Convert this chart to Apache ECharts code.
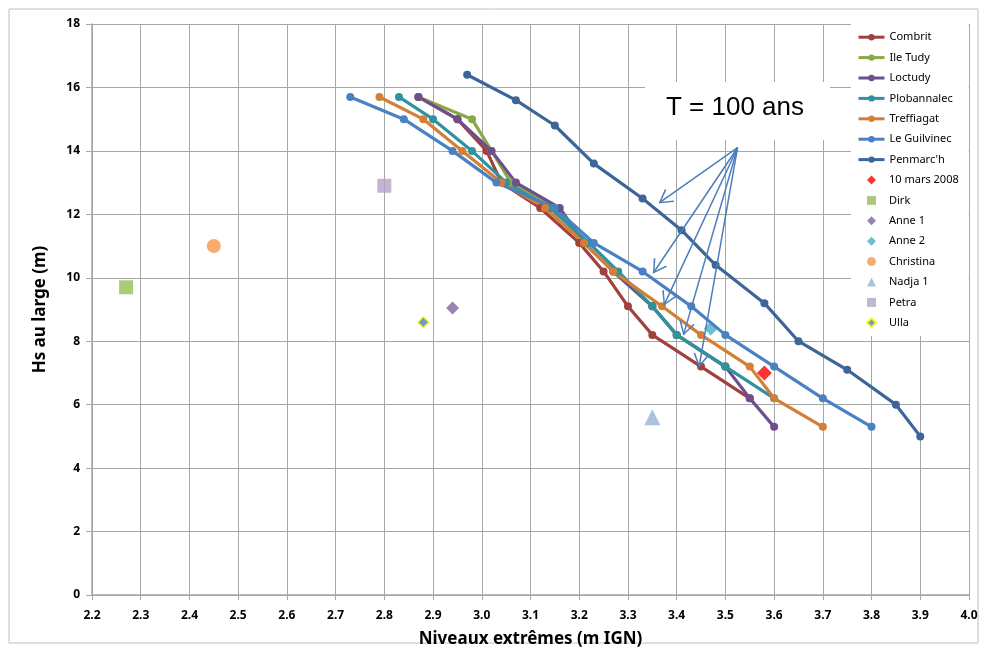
<!DOCTYPE html>
<html>
<head>
<meta charset="utf-8">
<title>Hs au large / Niveaux extrêmes</title>
<script src="https://cdn.jsdelivr.net/npm/echarts@6/dist/echarts.min.js"></script>
<style>
  html, body { margin: 0; padding: 0; background: #fff; }
  #chart { width: 987px; height: 651px; }
</style>
</head>
<body>
<div id="chart"></div>
<script>
// courbes T = 100 ans, [niveau (m IGN), Hs (m)]
const combrit = [[2.87, 15.7], [2.95, 15.0], [3.01, 14.0], [3.04, 13.0], [3.12, 12.2], [3.20, 11.1], [3.25, 10.2], [3.30, 9.1], [3.35, 8.2], [3.45, 7.2], [3.55, 6.2]];
const ileTudy = [[2.87, 15.7], [2.98, 15.0], [3.02, 14.0], [3.06, 13.0], [3.15, 12.2], [3.21, 11.1], [3.27, 10.2], [3.35, 9.1], [3.40, 8.2], [3.50, 7.2]];
const loctudy = [[2.87, 15.7], [2.95, 15.0], [3.02, 14.0], [3.07, 13.0], [3.16, 12.2], [3.21, 11.1], [3.27, 10.2], [3.35, 9.1], [3.40, 8.2], [3.50, 7.2], [3.55, 6.2], [3.60, 5.3]];
const plobannalec = [[2.83, 15.7], [2.90, 15.0], [2.98, 14.0], [3.05, 13.0], [3.14, 12.2], [3.22, 11.1], [3.28, 10.2], [3.35, 9.1], [3.40, 8.2], [3.50, 7.2], [3.60, 6.2]];
const treffiagat = [[2.79, 15.7], [2.88, 15.0], [2.96, 14.0], [3.04, 13.0], [3.13, 12.2], [3.21, 11.1], [3.27, 10.2], [3.37, 9.1], [3.45, 8.2], [3.55, 7.2], [3.60, 6.2], [3.70, 5.3]];
const leGuilvinec = [[2.73, 15.7], [2.84, 15.0], [2.94, 14.0], [3.03, 13.0], [3.15, 12.2], [3.23, 11.1], [3.33, 10.2], [3.43, 9.1], [3.50, 8.2], [3.60, 7.2], [3.70, 6.2], [3.80, 5.3]];
const penmarch = [[2.97, 16.4], [3.07, 15.6], [3.15, 14.8], [3.23, 13.6], [3.33, 12.5], [3.41, 11.5], [3.48, 10.4], [3.58, 9.2], [3.65, 8.0], [3.75, 7.1], [3.85, 6.0], [3.90, 5.0]];

// tempêtes observées
const mars2008 = [[3.58, 7.0]];
const dirk = [[2.27, 9.7]];
const anne1 = [[2.94, 9.05]];
const anne2 = [[3.47, 8.4]];
const christina = [[2.45, 11.0]];
const nadja1 = [[3.35, 5.6]];
const petra = [[2.80, 12.9]];
const ulla = [[2.88, 8.6]];

// flèches "T = 100 ans"
const arrowFrom = [3.525, 14.1];
const arrowTo = [[3.364, 12.36], [3.352, 10.15], [3.374, 9.14], [3.414, 8.2], [3.446, 7.19]];

const xTicks = { min: 2.2, max: 4.0, step: 0.1 };
const yTicks = { min: 0, max: 18, step: 2 };

const lineNames = ['Combrit', 'Ile Tudy', 'Loctudy', 'Plobannalec', 'Treffiagat', 'Le Guilvinec', "Penmarc'h"];
const pointNames = ['10 mars 2008', 'Dirk', 'Anne 1', 'Anne 2', 'Christina', 'Nadja 1', 'Petra', 'Ulla'];

const font = 'Noto Sans';
const gridColor = '#a6a6a6';
const rowH = 20.4;
// pointe de flèche ouverte (V), la pointe au centre du symbole
const arrowHead = 'path://M-10,-10 L-9.9,-10 L-10,-9.9 Z M10,10 L9.9,10 L10,9.9 Z M0,0 L6,10 L5,10.8 L0,2 L-5,10.8 L-6,10 Z';

function lineSerie(name, data, color) {
  return {
    name: name,
    type: 'line',
    data: data,
    symbol: 'circle',
    symbolSize: 8,
    lineStyle: { color: color, width: 3.2 },
    itemStyle: { color: color },
    animation: false
  };
}

function pointSerie(name, data, symbol, size, color, border) {
  return {
    name: name,
    type: 'scatter',
    data: data,
    symbol: symbol,
    symbolSize: size,
    itemStyle: border
      ? { color: color, borderColor: border, borderWidth: 1.5 }
      : { color: color },
    animation: false
  };
}

const legendText = {
  fontFamily: font,
  fontSize: 11,
  lineHeight: rowH,
  color: '#000'
};

const myChart = echarts.init(document.getElementById('chart'));
const chartOption = {
  backgroundColor: '#fff',
  grid: {
    left: 92,
    right: 18,
    top: 24,
    bottom: 56,
    containLabel: false,
    outerBoundsMode: 'none'
  },
  legend: [
    {
      // courbes
      orient: 'vertical',
      left: 851,
      top: 24,
      padding: [3, 16, 3 + pointNames.length * rowH, 6],
      backgroundColor: '#fff',
      itemWidth: 26,
      itemHeight: 8,
      itemGap: 0,
      selectedMode: false,
      lineStyle: { width: 3 },
      textStyle: legendText,
      data: lineNames
    },
    {
      // points
      orient: 'vertical',
      left: 866,
      top: 27 + lineNames.length * rowH,
      padding: 0,
      itemWidth: 9,
      itemHeight: 9,
      itemGap: 0,
      selectedMode: false,
      textStyle: Object.assign({ padding: [0, 0, 0, 8] }, legendText),
      data: pointNames
    }
  ],
  xAxis: {
    type: 'value',
    min: xTicks.min,
    max: xTicks.max,
    interval: xTicks.step,
    name: 'Niveaux extrêmes (m IGN)',
    nameLocation: 'middle',
    nameGap: 36,
    nameTextStyle: { fontFamily: font, fontSize: 17, fontWeight: 'bold', color: '#000' },
    axisLine: { show: true, lineStyle: { color: gridColor, width: 1.5 } },
    axisTick: { show: true, length: 5, lineStyle: { color: gridColor } },
    axisLabel: {
      margin: 15,
      fontFamily: font,
      fontSize: 12,
      fontWeight: 'bold',
      color: '#000',
      formatter: function (v) { return v.toFixed(1); }
    },
    splitLine: { show: true, lineStyle: { color: gridColor } }
  },
  yAxis: {
    type: 'value',
    min: yTicks.min,
    max: yTicks.max,
    interval: yTicks.step,
    name: 'Hs au large (m)',
    nameLocation: 'middle',
    nameGap: 43,
    nameTextStyle: { fontFamily: font, fontSize: 17, fontWeight: 'bold', color: '#000' },
    axisLine: { show: true, lineStyle: { color: gridColor, width: 1.5 } },
    axisTick: { show: true, length: 6, lineStyle: { color: gridColor } },
    axisLabel: {
      margin: 12,
      fontFamily: font,
      fontSize: 12,
      fontWeight: 'bold',
      color: '#000'
    },
    splitLine: { show: true, lineStyle: { color: gridColor } }
  },
  graphic: [
    {
      type: 'rect',
      shape: { x: 9, y: 9, width: 969, height: 634 },
      style: { fill: 'none', stroke: '#bfbfbf', lineWidth: 1 },
      silent: true,
      z: -1
    },
    {
      type: 'rect',
      shape: { x: 645, y: 82, width: 185, height: 58 },
      style: { fill: '#fff' },
      silent: true,
      z: 1
    },
    {
      type: 'text',
      left: 666,
      top: 95,
      style: {
        text: 'T = 100 ans',
        font: '26px "Liberation Sans"',
        fill: '#000'
      },
      silent: true,
      z: 2
    }
  ],
  series: [
    lineSerie('Combrit', combrit, '#a0413e'),
    lineSerie('Ile Tudy', ileTudy, '#8aa84a'),
    lineSerie('Loctudy', loctudy, '#6e4e8d'),
    lineSerie('Plobannalec', plobannalec, '#31929f'),
    lineSerie('Treffiagat', treffiagat, '#d57f36'),
    lineSerie('Le Guilvinec', leGuilvinec, '#4a81c3'),
    lineSerie("Penmarc'h", penmarch, '#3c6698'),
    pointSerie('10 mars 2008', mars2008, 'diamond', 15, '#ff0000'),
    pointSerie('Dirk', dirk, 'rect', 14, '#9bbb59'),
    pointSerie('Anne 1', anne1, 'diamond', 13, '#8064a2'),
    pointSerie('Anne 2', anne2, 'diamond', 14, '#4bacc6'),
    pointSerie('Christina', christina, 'circle', 14, '#f79646'),
    pointSerie('Nadja 1', nadja1, 'triangle', 16, '#95b3d7'),
    pointSerie('Petra', petra, 'rect', 14, '#b3a2c7'),
    pointSerie('Ulla', ulla, 'diamond', 11, '#4f81bd', '#ffff00'),
    {
      name: 'arrows',
      type: 'line',
      data: [],
      animation: false,
      markLine: {
        silent: true,
        animation: false,
        symbol: ['none', arrowHead],
        symbolSize: 27,
        symbolKeepAspect: true,
        label: { show: false },
        lineStyle: { color: '#4a7ebb', width: 1.5, type: 'solid' },
        itemStyle: { color: '#4a7ebb' },
        emphasis: { disabled: true },
        data: arrowTo.map(function (p) {
          return [{ coord: arrowFrom }, { coord: p }];
        })
      }
    }
  ]
};
myChart.setOption(chartOption);
</script>
</body>
</html>
